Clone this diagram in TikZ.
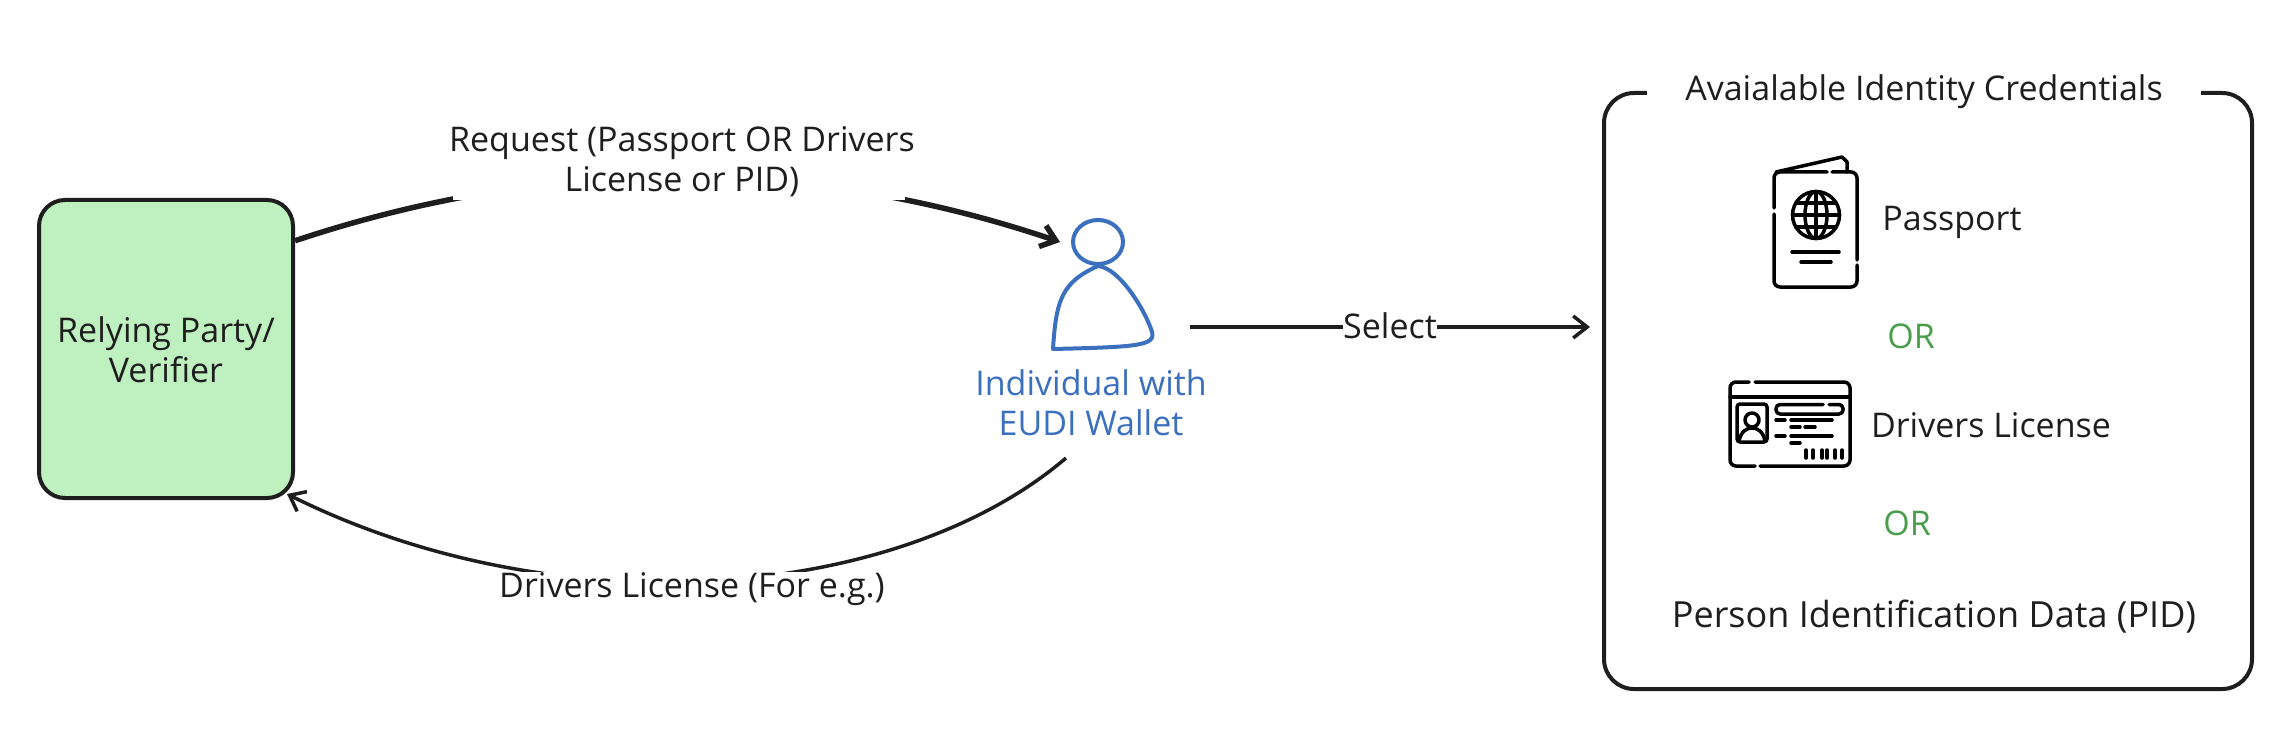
\documentclass[tikz,border=0pt]{standalone}
\usepackage{fontspec}
\usepackage{color}
\setmainfont{Open Sans}
\usetikzlibrary{arrows.meta,shapes.geometric}
\definecolor{inkblack}{HTML}{1E1E1E}
\definecolor{boxgreen}{HTML}{BFF0BF}
\definecolor{personblue}{HTML}{3B70BF}
\definecolor{orgreen}{HTML}{4A9D4A}
\tikzset{
	lbl/.style={font=\fontsize{34}{40}\selectfont,text=inkblack,align=center,inner sep=0pt},
	mask/.style={fill=white,inner sep=0pt},
	flow/.style={draw=inkblack,line width=3.5pt,-{Straight Barb[length=14pt,width=22pt]}},
	frame/.style={draw=inkblack,line width=4pt},
	icon/.style={draw=black,line width=3.5pt,line cap=round,line join=round}
}

\begin{document}
\begin{tikzpicture}[x=1pt,y=-1pt]
		\useasboundingbox (0,0) rectangle (2290,730);
		\node[frame,fill=boxgreen,rounded corners=26pt,minimum width=254pt,minimum height=298pt,inner sep=0pt] (verifier) at (166,349) {};
		\node[lbl] (verifierlabel) at (166,350) {Relying Party/\\Verifier};
		\node[ellipse,draw=personblue,line width=4pt,minimum width=50pt,minimum height=44pt,inner sep=0pt] (head) at (1098,242) {};
		\draw[personblue,line width=4pt,line join=round] (1053,349) .. controls (1056,300) and (1062,282) .. (head.south) .. controls (1120,268) and (1146,312) .. (1152,332) .. controls (1156,346) and (1135,347) .. cycle;
		\node[lbl,text=personblue] (wallet) at (1091,403) {Individual with\\EUDI Wallet};
		\draw[flow,line width=5.5pt] (verifier.40) .. controls (549,156) and (806,156) .. ([xshift=-11pt]head.west);
		\node[mask,minimum width=452pt,minimum height=80pt] (requestmask) at (679,160) {};
		\node[lbl] (request) at (682,162) {Request (Passport OR Drivers\\License or PID)};
		\coordinate (returnstart) at (1066,458);
		\draw[flow] (returnstart) .. controls (900,600) and (560,630) .. ([shift={(-8,-6)}]verifier.south east);
		\node[mask,minimum width=392pt,minimum height=36pt] (returnmask) at (692,590) {};
		\node[lbl] (return) at (692,589) {Drivers License (For e.g.)};
		\node[frame,rounded corners=30pt,minimum width=648pt,minimum height=596pt,inner sep=0pt] (creds) at (1928,391) {};
		\coordinate (selectstart) at (1190,327);
		\draw[flow,shorten >=12pt] (selectstart) -- (creds.west |- selectstart);
		\node[lbl,mask,minimum height=40pt] (select) at (1390,326) {Select};
		\node[mask,minimum width=554pt,minimum height=44pt] (titlemask) at (1924,92) {};
		\node[lbl] (title) at (1924,92) {Avaialable Identity Credentials};
		\node[lbl] (passport) at (1952,222) {Passport};
		\node[lbl,text=orgreen] (ortop) at (1911,336) {OR};
		\node[lbl] (license) at (1991,425) {Drivers License};
		\node[lbl,text=orgreen] (orbottom) at (1907,523) {OR};
		\node[lbl,font=\fontsize{36}{40}\selectfont] (pid) at (1934,617) {Person Identification Data (PID)};
		\draw[icon] (1776,172) -- (1842,157) -- (1847,162) -- (1847,172);
		\draw[icon,rounded corners=6pt] (1827,172) -- (1774,172) -- (1774,208);
		\draw[icon,rounded corners=6pt] (1774,214) -- (1774,287) -- (1857,287) -- (1857,265);
		\draw[icon,rounded corners=6pt] (1857,260) -- (1857,172) -- (1832,172);
		\draw[icon] (1816,215) circle (23.5);
		\draw[icon] (1816,215) ellipse (11 and 23.5);
		\draw[icon] (1792.5,215) -- (1839.5,215) (1816,191.5) -- (1816,238.5) (1796,203) -- (1836,203) (1796,227) -- (1836,227);
		\draw[icon] (1792,252) -- (1839,252) (1801,262) -- (1831,262);
		\draw[icon,rounded corners=6pt] (1749,382) -- (1730,382) -- (1730,466) -- (1755,466);
		\draw[icon,rounded corners=6pt] (1755,382) -- (1850,382) -- (1850,466) -- (1760,466);
		\draw[icon] (1730,397) -- (1850,397);
		\draw[icon,rounded corners=3pt] (1737,404) rectangle (1767,442);
		\draw[icon] (1752,420) circle (7);
		\draw[icon] (1739,441) .. controls (1741,431) and (1747,428) .. (1752,428) .. controls (1757,428) and (1763,431) .. (1765,441);
		\draw[icon,rounded corners=4pt] (1823,404.5) -- (1776,404.5) -- (1776,414) -- (1843,414) -- (1843,404.5) -- (1829,404.5);
		\draw[icon] (1776,420) -- (1785,420) (1791,420) -- (1832,420) (1791,427) -- (1800,427) (1805,427) -- (1815,427);
		\draw[icon] (1776,436) -- (1785,436) (1791,436) -- (1832,436) (1791,443) -- (1800,443);
		\draw[icon] (1806,450) -- (1806,458) (1813,450) -- (1813,458) (1822,450) -- (1822,458) (1827,450) -- (1827,458) (1835,450) -- (1835,458) (1842,450) -- (1842,458);
	\end{tikzpicture}
\end{document}
